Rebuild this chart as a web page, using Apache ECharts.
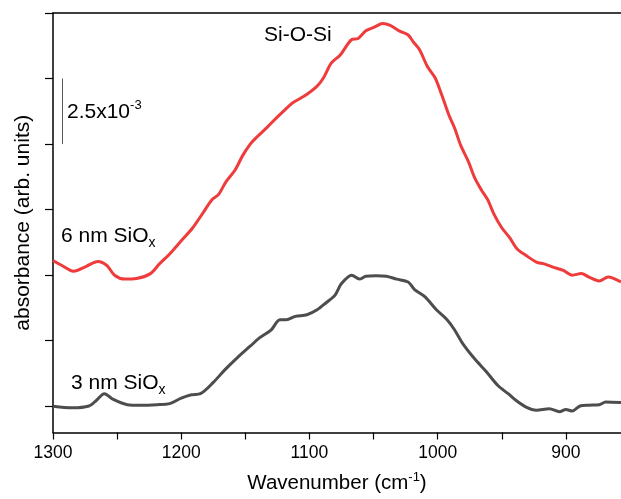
<!DOCTYPE html>
<html>
<head>
<meta charset="utf-8">
<script src="https://cdn.jsdelivr.net/npm/echarts@6/dist/echarts.min.js"></script>
<style>
  html, body { margin: 0; padding: 0; background: #fff; }
  #chart { width: 621px; height: 499px; }
</style>
</head>
<body>
<div id="chart"></div>
<script>
// absorbance in units of 1e-3 (3 nm trace on its own baseline, 6 nm trace offset)
const wn6 = [1300, 1292, 1284, 1274, 1265, 1258, 1252, 1244, 1235, 1224, 1217, 1209, 1200, 1191, 1183, 1176, 1171, 1165, 1158, 1152,
  1146, 1141, 1133, 1128, 1120, 1113, 1104, 1094, 1089, 1083, 1076, 1067, 1062, 1056, 1049, 1043, 1037, 1030, 1023, 1019,
  1014, 1008, 1002, 997, 991, 987, 982, 976, 971, 966, 961, 956, 950, 944, 938, 931, 923, 917, 910, 902, 895, 888, 882, 874, 867, 857]
const abs6 = [5.56, 5.34, 5.15, 5.34, 5.52, 5.37, 5.00, 4.85, 4.87, 5.06, 5.43, 5.81, 6.31, 6.81, 7.38, 7.88, 8.07, 8.57, 9.01, 9.57,
  10.01, 10.27, 10.64, 10.89, 11.27, 11.58, 11.83, 12.21, 12.53, 13.09, 13.40, 13.99, 14.03, 14.32, 14.47, 14.60, 14.53, 14.32, 14.16, 13.90,
  13.59, 12.96, 12.53, 11.90, 11.08, 10.64, 9.95, 9.33, 8.70, 8.26, 7.88, 7.32, 6.81, 6.44, 6.00, 5.75, 5.50, 5.43, 5.31, 5.18, 5.00, 5.06, 4.93, 4.78, 4.93, 4.74]

const wn3 = [1300, 1285, 1272, 1266, 1260, 1253, 1242, 1232, 1219, 1209, 1200, 1192, 1185, 1175, 1166, 1157, 1146, 1139, 1130, 1123,
  1118, 1111, 1102, 1094, 1087, 1080, 1075, 1067, 1061, 1056, 1048, 1040, 1032, 1023, 1018, 1010, 1001, 993, 987, 980,
  971, 962, 953, 945, 939, 931, 923, 913, 905, 900, 895, 889, 882, 874, 869, 857]
const abs3 = [0, -0.06, 0.01, 0.23, 0.48, 0.26, 0.06, 0.04, 0.06, 0.10, 0.31, 0.44, 0.48, 0.91, 1.39, 1.82, 2.30, 2.61, 2.90, 3.30,
  3.30, 3.43, 3.49, 3.68, 3.95, 4.24, 4.68, 5.00, 4.85, 4.96, 4.98, 4.96, 4.85, 4.74, 4.45, 4.18, 3.68, 3.32, 2.93, 2.36,
  1.80, 1.32, 0.79, 0.48, 0.23, -0.03, -0.15, -0.09, -0.21, -0.12, -0.18, 0.01, 0.04, 0.06, 0.16, 0.14]

const xTicks = [1300, 1250, 1200, 1150, 1100, 1050, 1000, 950, 900]
const xLabels = [1300, 1200, 1100, 1000, 900]
const yTicks = [0, 2.5, 5, 7.5, 10, 12.5, 15]
// scale bar: 2.5x10^-3
const scaleBarX = 1293
const scaleBar = [10, 12.5]

const FONT = "'Liberation Sans', Arial, sans-serif"

let myChart = echarts.init(document.getElementById("chart"))
myChart.setOption({
  animation: false,
  grid: { left: 53, right: 0, top: 13, bottom: 61 },
  xAxis: [
    {
      type: "value",
      inverse: true,
      min: 857,
      max: 1300,
      name: "{a|Wavenumber (cm}{s|-1}{a|)}",
      nameLocation: "middle",
      nameGap: 38,
      nameTextStyle: {
        rich: {
          a: { fontSize: 20.5, fontFamily: FONT, color: "#000", lineHeight: 26 },
          s: { fontSize: 13, fontFamily: FONT, color: "#000", lineHeight: 13, verticalAlign: "top" },
        },
      },
      axisLine: { onZero: false, lineStyle: { color: "#000", width: 1.5 } },
      axisTick: { length: 7, lineStyle: { color: "#000", width: 1.2 }, customValues: xTicks },
      axisLabel: {
        customValues: xLabels,
        formatter: (v) => String(v),
        fontSize: 17.5,
        fontFamily: FONT,
        color: "#000",
        margin: 12,
      },
      splitLine: { show: false },
    },
    {
      type: "value",
      inverse: true,
      position: "top",
      min: 857,
      max: 1300,
      axisLine: { show: true, onZero: false, lineStyle: { color: "#000", width: 1.5 } },
      axisTick: { show: false },
      axisLabel: { show: false },
      splitLine: { show: false },
    },
  ],
  yAxis: {
    type: "value",
    min: -1,
    max: 15,
    name: "absorbance (arb. units)",
    nameLocation: "middle",
    nameGap: 19,
    nameTextStyle: { fontSize: 21, fontFamily: FONT, color: "#000" },
    axisLine: { show: true, onZero: false, lineStyle: { color: "#000", width: 1.5 } },
    axisTick: { length: 8, lineStyle: { color: "#000", width: 1.2 }, customValues: yTicks },
    axisLabel: { show: false },
    splitLine: { show: false },
  },
  series: [
    {
      name: "6 nm SiOx",
      type: "line",
      data: wn6.map((w, i) => [w, abs6[i]]),
      showSymbol: false,
      smooth: 0.3,
      lineStyle: { color: "#ef3b3b", width: 3 },
      silent: true,
      markLine: {
        silent: true,
        symbol: "none",
        label: { show: false },
        lineStyle: { color: "#555", width: 1, type: "solid" },
        data: [[{ coord: [scaleBarX, scaleBar[0]] }, { coord: [scaleBarX, scaleBar[1]] }]],
      },
    },
    {
      name: "3 nm SiOx",
      type: "line",
      data: wn3.map((w, i) => [w, abs3[i]]),
      showSymbol: false,
      smooth: 0.3,
      lineStyle: { color: "#4d4d4d", width: 3 },
      silent: true,
    },
  ],
  graphic: [
    {
      type: "text", left: 264, top: 25,
      style: { text: "Si-O-Si", font: "21px " + FONT, fill: "#000" },
    },
    {
      type: "text", left: 67, top: 99,
      style: {
        text: "{a|2.5x10}{s|-3}",
        rich: {
          a: { fontSize: 21, fontFamily: FONT, fill: "#000", lineHeight: 26 },
          s: { fontSize: 13, fontFamily: FONT, fill: "#000", lineHeight: 14, verticalAlign: "top" },
        },
      },
    },
    {
      type: "text", left: 61, top: 226,
      style: {
        text: "{a|6 nm SiO}{s|x}",
        rich: {
          a: { fontSize: 21, fontFamily: FONT, fill: "#000", lineHeight: 28 },
          s: { fontSize: 14, fontFamily: FONT, fill: "#000", lineHeight: 14, verticalAlign: "bottom" },
        },
      },
    },
    {
      type: "text", left: 71, top: 373,
      style: {
        text: "{a|3 nm SiO}{s|x}",
        rich: {
          a: { fontSize: 21, fontFamily: FONT, fill: "#000", lineHeight: 28 },
          s: { fontSize: 14, fontFamily: FONT, fill: "#000", lineHeight: 14, verticalAlign: "bottom" },
        },
      },
    },
  ],
})

window.addEventListener("resize", () => {
  myChart.resize()
})
</script>
</body>
</html>
